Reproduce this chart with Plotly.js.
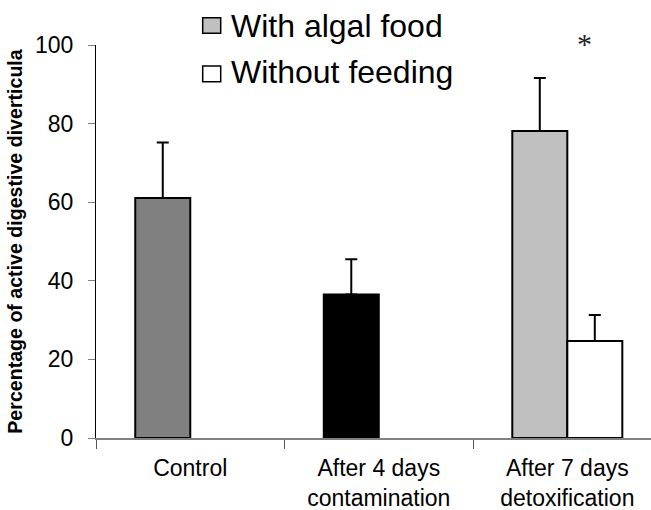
<!DOCTYPE html>
<html>
<head>
<meta charset="utf-8">
<script src="https://cdn.plot.ly/plotly-3.0.1.min.js"></script>
<style>html,body{margin:0;padding:0;background:#fff;}#chart{width:651px;height:510px;}</style>
</head>
<body>
<div id="chart"></div>
<script>
// ---- data ----
const categories = ['Control', 'After 4 days<br>contamination', 'After 7 days<br>detoxification'];
const seriesNames = ['With algal food', 'Without feeding'];
const fedValues = [61.1, 36.5, 78.1];
const fedErrors = [14.1, 9.0, 13.5];
const unfedValues = [null, null, 24.7];
const unfedErrors = [null, null, 6.6];
const yTickValues = [0, 20, 40, 60, 80, 100];
const significanceMark = '*';

// ---- styling ----
const FONT = 'Liberation Sans, Arial, sans-serif';
const fedColors = ['#808080', '#000000', '#c0c0c0'];

const traces = [
  {
    type: 'bar', name: seriesNames[0], x: categories, y: fedValues,
    marker: {color: fedColors, line: {color: '#000', width: 2}},
    error_y: {type: 'data', array: fedErrors, arrayminus: fedErrors.map(() => 0), symmetric: false,
              color: '#000', thickness: 2, width: 6},
    showlegend: false, hoverinfo: 'skip'
  },
  {
    type: 'bar', name: seriesNames[1], x: categories, y: unfedValues,
    marker: {color: '#ffffff', line: {color: '#000', width: 2}},
    error_y: {type: 'data', array: unfedErrors, arrayminus: unfedErrors.map(() => 0), symmetric: false,
              color: '#000', thickness: 2, width: 6},
    showlegend: false, hoverinfo: 'skip'
  }
];

// legend drawn by hand (paper coordinates)
const L = 96, PW = 555, B = 437.7, PH = 392.7;
const px = v => (v - L) / PW;
const py = v => (B - v) / PH;

const layout = {
  width: 651, height: 510,
  margin: {l: 96, r: 0, t: 45, b: 72.3, pad: 0},
  paper_bgcolor: '#fff', plot_bgcolor: '#fff',
  font: {family: FONT, color: '#000'},
  barmode: 'group', bargap: 0.4164, bargroupgap: 0,
  showlegend: false,
  xaxis: {
    type: 'category', range: [-0.5, 2.444],
    showline: true, linecolor: '#808080', linewidth: 2,
    ticks: 'outside', tickson: 'boundaries', ticklen: 9, tickcolor: '#555', tickwidth: 1,
    tickfont: {size: 23, family: FONT, color: '#000'},
    ticklabelstandoff: 8,
    showgrid: false, zeroline: false, fixedrange: true
  },
  yaxis: {
    range: [0, 100], tickvals: yTickValues, ticktext: yTickValues.map(String),
    showline: true, linecolor: '#000', linewidth: 1,
    ticks: 'outside', ticklen: 7, tickcolor: '#808080', tickwidth: 1,
    tickfont: {size: 23, family: FONT, color: '#000'},
    ticklabelstandoff: 10,
    showgrid: false, zeroline: false, fixedrange: true,
    title: {text: '<b>Percentage of active digestive diverticula</b>', font: {size: 19.6, family: FONT, color: '#000'}, standoff: 7}
  },
  shapes: [
    {type: 'rect', xref: 'paper', yref: 'paper', x0: px(202.7), x1: px(220.7), y0: py(33.3), y1: py(17.7),
     fillcolor: '#c0c0c0', line: {color: '#000', width: 1.5}},
    {type: 'rect', xref: 'paper', yref: 'paper', x0: px(202.7), x1: px(220.7), y0: py(81.7), y1: py(66),
     fillcolor: '#ffffff', line: {color: '#000', width: 1.5}}
  ],
  annotations: [
    {xref: 'paper', yref: 'paper', x: px(229), y: py(26), xanchor: 'left', yanchor: 'middle',
     text: seriesNames[0], showarrow: false, font: {size: 32, family: FONT, color: '#000'}},
    {xref: 'paper', yref: 'paper', x: px(229), y: py(72), xanchor: 'left', yanchor: 'middle',
     text: seriesNames[1], showarrow: false, font: {size: 32, family: FONT, color: '#000'}},
    {xref: 'x', yref: 'y', x: 2.093, y: 99.5, yshift: 3, xanchor: 'center', yanchor: 'middle',
     text: significanceMark, showarrow: false, font: {size: 30, family: 'Liberation Serif, Times New Roman, serif', color: '#222'}}
  ]
};

Plotly.newPlot('chart', traces, layout, {staticPlot: true, displayModeBar: false});
</script>
</body>
</html>
